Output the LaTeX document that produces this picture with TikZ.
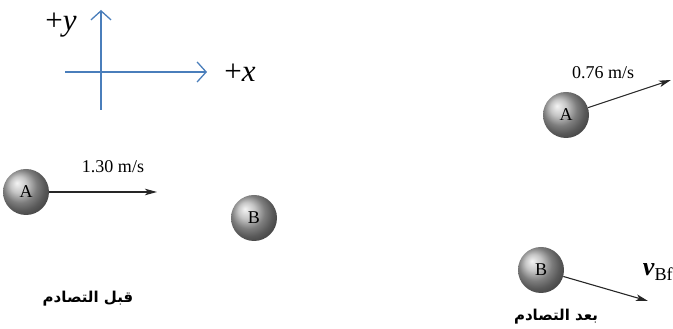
\documentclass[tikz,border=0pt]{standalone}
\usepackage{fontspec}
\setmainfont{Liberation Serif}
\newfontfamily\arabicfont[Script=Arabic]{DejaVu Sans}
\TeXXeTstate=1
\usepackage{xcolor}
\usetikzlibrary{arrows.meta, shapes.geometric}
\definecolor{axisblue}{RGB}{74,126,187}

\begin{document}
\begin{tikzpicture}[x=1pt, y=1pt]
    % Define styles
    \tikzstyle{ball} = [circle, shading=ball, ball color=black!30, minimum size=46pt, inner sep=0pt, font=\fontsize{18}{20}\selectfont]
    \tikzstyle{axis} = [draw=axisblue, line width=1.8pt, -{Straight Barb[length=9pt, width=20pt, line width=1.3pt]}]
    \tikzstyle{velocity} = [draw=black!85, line width=1.1pt, -{Stealth[length=12pt, width=6.5pt, inset=3pt]}]
    \tikzstyle{speed} = [font=\fontsize{18}{20}\selectfont, inner sep=1pt]
    \tikzstyle{axislabel} = [font=\fontsize{31}{33}\selectfont, inner sep=1pt]
    \tikzstyle{caption} = [font=\arabicfont\bfseries\fontsize{15}{17}\selectfont]

    \useasboundingbox (0,0) rectangle (673,329);

    % Axes
    \coordinate (xstart) at (65,257);
    \coordinate (xend) at (207,257);
    \coordinate (ystart) at (101,219);
    \coordinate (yend) at (101,319);
    \draw[axis] (xstart) -- (xend);
    \draw[axis] (ystart) -- (yend);
    \node[axislabel] (ylabel) at (61,304) {+\textit{y}};
    \node[axislabel] (xlabel) at (240,256) {+\textit{x}};

    % Before collision
    \node[ball] (ballA) at (26,137) {A};
    \node[ball] (ballB) at (254,111) {B};
    \coordinate (vA) at (157,137);
    \draw[velocity] (ballA) -- (vA);
    \node[speed] (vAlabel) at (113,162) {1.30 m/s};
    \node[caption] (before) at (88,30) {\beginR قبل التصادم\endR};

    % After collision
    \node[ball] (ballAf) at (566,214) {A};
    \coordinate (vAf) at (671,249);
    \draw[velocity] (ballAf) -- (vAf);
    \node[speed] (vAflabel) at (603,256) {0.76 m/s};

    \node[ball] (ballBf) at (541,59) {B};
    \coordinate (vBf) at (648,28);
    \draw[velocity] (ballBf) -- (vBf);
    \node[font=\fontsize{26}{28}\selectfont] (vBflabel) at (658,57) {\textbf{\textit{v}}\textsubscript{Bf}};
    \node[caption] (after) at (556,12) {\beginR بعد التصادم\endR};

\end{tikzpicture}
\end{document}
